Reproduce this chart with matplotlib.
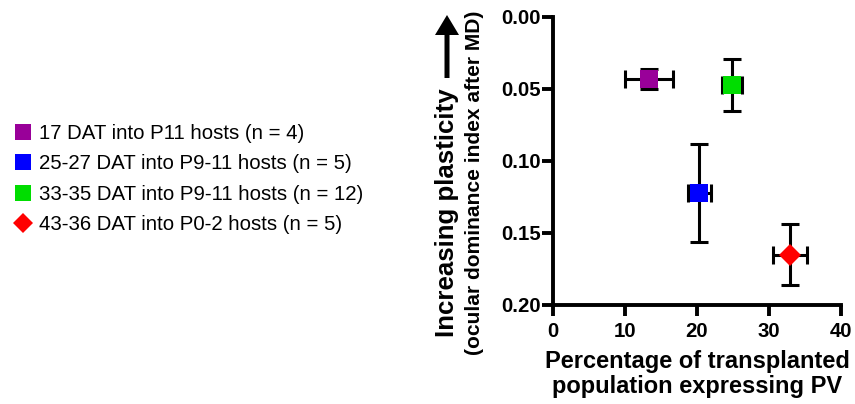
import matplotlib
matplotlib.use("Agg")
import matplotlib.pyplot as plt
from matplotlib.lines import Line2D
from matplotlib.patches import FancyArrow

plt.rcParams['font.family'] = ['Liberation Sans', 'DejaVu Sans']

# Groups: transplant age / host age, with sample size
labels = [
    "17 DAT into P11 hosts (n = 4)",
    "25-27 DAT into P9-11 hosts (n = 5)",
    "33-35 DAT into P9-11 hosts (n = 12)",
    "43-36 DAT into P0-2 hosts (n = 5)",
]
colors = ["#990099", "#0000ff", "#00dd00", "#ff0000"]
markers = ["s", "s", "s", "D"]

# Percentage of transplanted population expressing PV (mean, SEM)
pv_pct = [13.3, 20.3, 24.9, 32.9]
pv_err = [3.3, 1.6, 1.4, 2.4]

# Ocular dominance index after MD (mean, SEM)
odi = [0.043, 0.122, 0.047, 0.165]
odi_err = [0.007, 0.034, 0.018, 0.021]

xticks = [0, 10, 20, 30, 40]
yticks = [0.00, 0.05, 0.10, 0.15, 0.20]

W, H = 855, 404
fig = plt.figure(figsize=(W / 100, H / 100), dpi=100)
ax = fig.add_axes([553 / W, 1 - 305 / H, (841 - 553) / W, (305 - 17) / H])

for x, xe, y, ye, c, m in zip(pv_pct, pv_err, odi, odi_err, colors, markers):
    ax.errorbar(x, y, xerr=xe, yerr=ye, fmt='none', ecolor='black',
                elinewidth=2.2, capsize=6.8, capthick=2.2, zorder=2)
    ms = 12.5 if m == 's' else 11.5
    ax.plot(x, y, marker=m, color=c, markersize=ms, markeredgewidth=0,
            linestyle='none', zorder=3)

ax.set_xlim(xticks[0], xticks[-1])
ax.set_ylim(yticks[-1], yticks[0])
ax.set_xticks(xticks)
ax.set_yticks(yticks)
ax.set_xticklabels([str(t) for t in xticks])
ax.set_yticklabels([f"{t:.2f}" for t in yticks])
for s in ['top', 'right']:
    ax.spines[s].set_visible(False)
for s in ['left', 'bottom']:
    ax.spines[s].set_linewidth(2.8)
ax.tick_params(width=2.8, length=8, labelsize=14.7)
ax.tick_params(axis='y', pad=1)
ax.tick_params(axis='x', pad=4.5)
for t in ax.get_xticklabels() + ax.get_yticklabels():
    t.set_fontweight('bold')

ax.set_xlabel("Percentage of transplanted\npopulation expressing PV",
              fontsize=17, fontweight='bold', linespacing=1.14, labelpad=6)

# Two-line y label with an upward arrow
fig.text(447 / W, 1 - 213 / H, "Increasing plasticity",
         rotation=90, ha='center', va='center', fontsize=18.6, fontweight='bold')
fig.text(474 / W, 1 - 183 / H, "(ocular dominance index after MD)",
         rotation=90, ha='center', va='center', fontsize=15.1, fontweight='bold')
arrow = FancyArrow(447 / W, 1 - 78 / H, 0, (78 - 15) / H, width=5 / W,
                   head_width=24 / W, head_length=20 / H,
                   length_includes_head=True, transform=fig.transFigure,
                   color='black', linewidth=0)
fig.patches.append(arrow)

handles = [Line2D([], [], marker=m, color=c, linestyle='none',
                  markersize=(11 if m == 's' else 10), markeredgewidth=0)
           for c, m in zip(colors, markers)]
fig.legend(handles, labels, loc='center left', bbox_to_anchor=(0.0, 1 - 179 / H),
           frameon=False, fontsize=14.7, handletextpad=0.05, handlelength=1.45,
           labelspacing=0.56, borderaxespad=0.0, borderpad=0.4)

fig.savefig("out.png", dpi=100)
